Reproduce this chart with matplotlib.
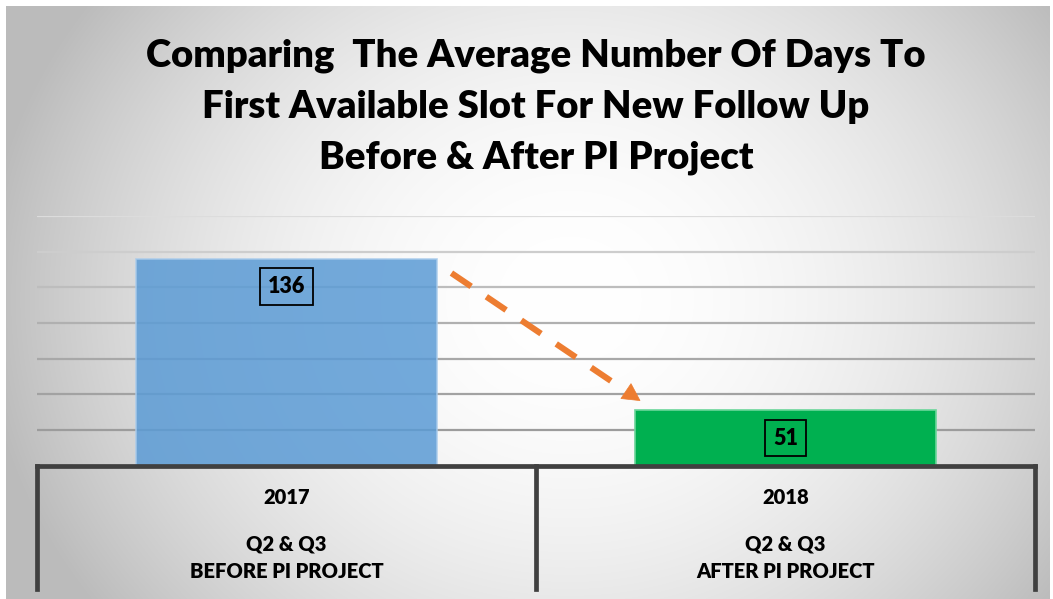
import numpy as np
import matplotlib
matplotlib.use("Agg")
import matplotlib.pyplot as plt
from matplotlib.patches import Polygon
from matplotlib.lines import Line2D

# ---------------- data ----------------
years = ["2017", "2018"]
periods = ["Q2 & Q3", "Q2 & Q3"]
phases = ["BEFORE PI PROJECT", "AFTER PI PROJECT"]
values = [136, 51]
bar_colors = ["#5B9BD5", "#00B050"]
bar_alphas = [0.85, 1.0]
edge_colors = ["#A9CBEB", "#6BD69A"]
y_ticks = [20, 40, 60, 80, 100, 120, 140, 160]
grid_colors = ["#404040", "#9c9c9c", "#a2a2a2", "#a8a8a8", "#b0b0b0", "#bdbdbd", "#cdcdcd", "#dcdcdc"]
title_lines = ["Comparing  The Average Number Of Days To",
               "First Available Slot For New Follow Up",
               "Before & After PI Project"]

W, H = 1053, 599
FONT = "Lato"

fig = plt.figure(figsize=(W / 100, H / 100), dpi=100)
fig.patch.set_facecolor("white")

# ---------------- background radial gradient ----------------
bg = fig.add_axes([0, 0, 1, 1], zorder=-10)
bx0, bx1, by0, by1 = 6, 1050, 6, 599   # px, from top-left
xs = np.arange(bx0, bx1) + 0.5
ys = np.arange(by0, by1) + 0.5
X, Y = np.meshgrid(xs, ys)
r = np.sqrt(((X - 570) / 590.0) ** 2 + ((Y - 300) / 520.0) ** 2)
val = 255 - 68 * np.clip(r, 0, 1) ** 2.0
img = np.dstack([val, val, val]) / 255.0
bg.imshow(img, extent=[bx0, bx1, H - by1, H - by0], origin="upper", aspect="auto",
          interpolation="bilinear")
bg.set_xlim(0, W)
bg.set_ylim(0, H)
bg.axis("off")

# ---------------- main axes ----------------
ax_left, ax_right, ax_top, ax_bottom = 37, 1035, 216, 465.7  # px from top-left
ax = fig.add_axes([ax_left / W, (H - ax_bottom) / H, (ax_right - ax_left) / W,
                   (ax_bottom - ax_top) / H])
ax.patch.set_alpha(0)
x = np.arange(len(values))
ax.set_xlim(-0.5, len(values) - 0.5)
ax.set_ylim(y_ticks[0], y_ticks[-1])

for t, c in zip(y_ticks[1:], grid_colors[1:]):
    ax.axhline(t, color=c, lw=1.6, zorder=1)

bw = 0.605
for i, v in enumerate(values):
    ax.bar(x[i], v - y_ticks[0], bottom=y_ticks[0], width=bw, color=bar_colors[i],
           alpha=bar_alphas[i], edgecolor=edge_colors[i], linewidth=1.2, zorder=2)
    ax.annotate(str(v), xy=(x[i], v), xytext=(0, -20), textcoords="offset points",
                ha="center", va="center", fontsize=15.5, fontweight="heavy",
                family=FONT, color="black", zorder=5,
                bbox=dict(boxstyle="square,pad=0.36", fc="none", ec="black", lw=1.3))

for s in ["left", "right", "top"]:
    ax.spines[s].set_visible(False)
ax.spines["bottom"].set_color(grid_colors[0])
ax.spines["bottom"].set_linewidth(3.4)
ax.spines["bottom"].set_zorder(4)
ax.set_xticks([])
ax.set_yticks([])

# category box lines
axh = ax_bottom - ax_top
yb = (ax_bottom - 588.5) / axh
for xv in np.arange(-0.5, len(values), 1.0):
    ax.add_line(Line2D([xv, xv], [0, yb], transform=ax.get_xaxis_transform(),
                       color=grid_colors[0], lw=3.4, clip_on=False, zorder=4,
                       solid_capstyle="projecting"))

# category labels
def yfrac(py):
    return (ax_bottom - py) / axh

for i in range(len(values)):
    tr = ax.get_xaxis_transform()
    for txt, py in [(years[i], 497), (periods[i], 544), (phases[i], 572)]:
        ax.text(x[i], yfrac(py), txt, transform=tr, ha="center", va="center",
                fontsize=14.5, fontweight="heavy", family=FONT)

# ---------------- arrow (display coords) ----------------
p0 = ax.transData.transform((x[0] + bw / 2 + 0.028, values[0] - 8))
p1 = ax.transData.transform((x[1] - bw / 2 + 0.011, values[1] + 5.5))
d = p1 - p0
L = np.hypot(*d)
u = d / L
nrm = np.array([-u[1], u[0]])
head_len, head_w = 17, 18
base = p1 - u * head_len
orange = "#ED7D31"
fig.add_artist(Line2D([p0[0], base[0]], [p0[1], base[1]], transform=None,
                      color=orange, lw=4.4, dashes=(3.9, 3.0), solid_capstyle="butt",
                      dash_capstyle="butt", zorder=6))
tri = Polygon([p1, base + nrm * head_w / 2, base - nrm * head_w / 2], closed=True,
              transform=None, fc=orange, ec=orange, lw=0.5, zorder=6)
fig.add_artist(tri)

# ---------------- title ----------------
for k, (line, py) in enumerate(zip(title_lines, [56, 107, 158])):
    fig.text(536 / W, (H - py) / H, line, ha="center", va="center", fontsize=27.5,
             fontweight="heavy", family=FONT)

fig.savefig("out.png", dpi=100)
